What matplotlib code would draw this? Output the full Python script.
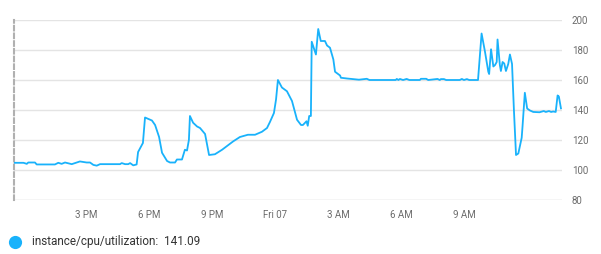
import matplotlib
matplotlib.use("Agg")
import matplotlib.pyplot as plt
from matplotlib.lines import Line2D

plt.rcParams['font.family'] = ['Roboto', 'DejaVu Sans']

# hours since Thursday 00:00 (24 = Fri 00:00)
hours = [11.57, 12.02, 12.18, 12.25, 12.57, 12.65, 13.52, 13.68, 13.84, 14.00,
         14.32, 14.71, 15.03, 15.19, 15.35, 15.51, 15.67, 16.62, 16.70, 16.86,
         17.01, 17.10, 17.25, 17.41, 17.48, 17.71, 17.81, 18.14, 18.29, 18.48,
         18.62, 18.86, 19.00, 19.24, 19.33, 19.57, 19.71, 19.81, 19.90, 19.95,
         20.10, 20.29, 20.43, 20.67, 20.86, 21.14, 21.48, 22.00, 22.33, 22.71,
         23.05, 23.38, 23.62, 23.76, 23.95, 24.05, 24.14, 24.33, 24.57, 24.81,
         25.05, 25.24, 25.33, 25.50, 25.56, 25.63, 25.71, 25.75, 25.95, 26.06,
         26.18, 26.38, 26.48, 26.62, 26.78, 26.86, 27.10, 27.14, 27.43, 27.81,
         28.00, 28.37, 28.50, 29.75, 29.80, 29.88, 29.95, 30.10, 30.27, 30.40,
         30.90, 30.95, 31.20, 31.30, 31.74, 31.85, 31.90, 32.05, 32.15, 32.80,
         32.90, 33.00, 33.14, 33.25, 33.67, 33.84, 34.00, 34.16, 34.20, 34.29,
         34.40, 34.48, 34.56, 34.60, 34.71, 34.76, 34.84, 34.92, 35.00, 35.11,
         35.19, 35.29, 35.38, 35.48, 35.59, 35.75, 35.79, 35.90, 36.01, 36.14,
         36.30, 36.60, 36.80, 36.90, 37.05, 37.15, 37.25, 37.37, 37.46, 37.52,
         37.62]
cpu = [104.8, 104.8, 104.1, 105.0, 105.0, 103.7, 103.7, 104.8, 104.1, 105.0,
       103.9, 105.7, 105.0, 105.0, 103.4, 102.9, 103.9, 103.9, 104.6, 103.9,
       103.9, 104.6, 103.1, 103.7, 112.0, 118.0, 135.0, 133.0, 130.0, 122.0,
       111.5, 106.0, 105.0, 105.0, 107.0, 107.0, 113.5, 113.0, 120.0, 136.0,
       131.5, 129.0, 128.0, 124.0, 110.0, 110.5, 113.5, 119.0, 122.0, 123.5,
       123.5, 125.5, 128.0, 132.0, 138.0, 147.0, 160.0, 155.0, 152.5, 146.0,
       133.5, 130.0, 130.0, 132.5, 129.5, 136.0, 136.0, 185.5, 177.0, 194.0,
       186.0, 186.0, 183.0, 181.5, 173.7, 165.5, 163.0, 161.5, 161.0, 160.5,
       160.2, 160.8, 160.0, 160.0, 160.7, 160.0, 160.7, 160.0, 160.7, 160.0,
       160.0, 160.8, 160.8, 160.0, 160.7, 160.0, 160.6, 160.6, 160.0, 160.0,
       160.7, 160.0, 160.6, 160.0, 160.0, 191.0, 179.0, 165.5, 164.0, 180.5,
       169.0, 170.0, 172.0, 187.0, 170.0, 166.0, 172.0, 171.0, 166.0, 170.7,
       177.0, 170.7, 140.0, 110.0, 111.0, 121.5, 129.0, 151.5, 141.0, 139.7,
       138.7, 138.5, 139.3, 138.7, 139.3, 138.7, 139.0, 138.7, 149.7, 149.0,
       141.09]

xtick_pos = [15, 18, 21, 24, 27, 30, 33]
xtick_labels = ["3 PM", "6 PM", "9 PM", "Fri 07", "3 AM", "6 AM", "9 AM"]
ytick_pos = [80, 100, 120, 140, 160, 180, 200]
series_name = "instance/cpu/utilization"
last_value = "141.09"

W, H = 601, 254
fig = plt.figure(figsize=(W / 100, H / 100), dpi=100)
ax = fig.add_axes([14 / W, (H - 200) / H, (562 - 14) / W, 180 / H])

line_color = "#19b2fb"
ax.plot(hours, cpu, color=line_color, lw=1.3, solid_joinstyle="round", zorder=3)

ax.set_xlim(11.57, 37.67)
ax.set_ylim(80, 200)

for s in ["top", "right", "bottom"]:
    ax.spines[s].set_visible(False)
ax.spines["left"].set_color("#b0b0b0")
ax.spines["left"].set_linewidth(1.5)
ax.spines["left"].set_linestyle((0, (2.2, 1.5)))

for v in ytick_pos:
    ax.axhline(v, color="#cccccc" if v == 80 else "#e4e4e4", lw=1.0, zorder=1)

ax.yaxis.tick_right()
ax.set_yticks(ytick_pos)
ax.set_yticklabels([str(v) for v in ytick_pos])
ax.tick_params(axis="y", length=0, pad=7, labelsize=7, labelcolor="#6b6b6b")
ax.set_xticks(xtick_pos)
ax.set_xticklabels(xtick_labels)
ax.tick_params(axis="x", length=0, pad=7, labelsize=7, labelcolor="#6b6b6b")

# legend
fig.add_artist(Line2D([15 / W], [(H - 242) / H], marker="o", markersize=9.5,
                      color=line_color, markeredgewidth=0, transform=fig.transFigure))
fig.text(32 / W, (H - 242) / H, f"{series_name}:  {last_value}", fontsize=8.5,
         color="#333333", va="center", ha="left")

fig.savefig("out.png", dpi=100)
